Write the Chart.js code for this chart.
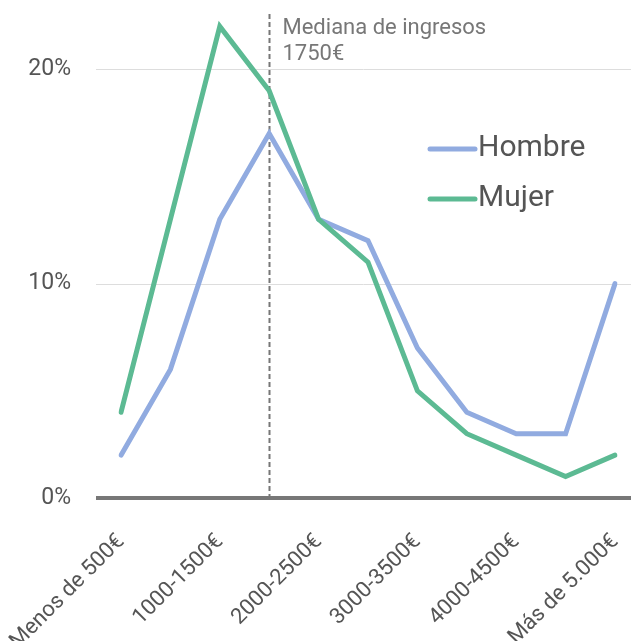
<!DOCTYPE html>
<html lang="es">
<head>
    <meta charset="UTF-8">
    <title>Ingresos por sexo</title>
    <script src="https://cdn.jsdelivr.net/npm/chart.js"></script>
    <style>
        body {
            margin: 0;
            padding: 0;
            background: #ffffff;
            overflow: hidden;
        }
    </style>
</head>
<body>
    <canvas id="incomeChart" width="631" height="641"></canvas>

    <script>
        // categories and values (% of people in each income band)
        const categories = ['Menos de 500€', '500-1000€', '1000-1500€', '1500-2000€', '2000-2500€',
            '2500-3000€', '3000-3500€', '3500-4000€', '4000-4500€', '4500-5000€', 'Más de 5.000€'];
        const hombre = [2, 6, 13, 17, 13, 12, 7, 4, 3, 3, 10];
        const mujer = [4, 13, 22, 19, 13, 11, 5, 3, 2, 1, 2];
        const seriesNames = ['Hombre', 'Mujer'];
        const yTicks = [0, 10, 20];
        const medianIndex = 3;
        const medianLabel = ['Mediana de ingresos', '1750€'];

        const colors = ['#91abe0', '#5cba93'];

        // grid lines across the whole width, thick zero line, median marker
        const gridPlugin = {
            id: 'gridLines',
            beforeDatasetsDraw(chart) {
                const ctx = chart.ctx;
                const y = chart.scales.y;
                ctx.save();
                yTicks.forEach(t => {
                    const py = Math.round(y.getPixelForValue(t));
                    ctx.beginPath();
                    if (t === 0) {
                        ctx.strokeStyle = '#777777';
                        ctx.lineWidth = 4;
                        ctx.moveTo(96, py);
                        ctx.lineTo(chart.width, py);
                    } else {
                        ctx.strokeStyle = '#dddddd';
                        ctx.lineWidth = 1;
                        ctx.moveTo(96, py + 0.5);
                        ctx.lineTo(chart.width, py + 0.5);
                    }
                    ctx.stroke();
                });

                const x = Math.round(chart.scales.x.getPixelForValue(medianIndex)) + 0.5;
                ctx.beginPath();
                ctx.setLineDash([5, 3]);
                ctx.strokeStyle = '#777777';
                ctx.lineWidth = 2;
                ctx.moveTo(x, 14);
                ctx.lineTo(x, y.getPixelForValue(0) - 2);
                ctx.stroke();
                ctx.setLineDash([]);

                ctx.fillStyle = '#777777';
                ctx.font = '22px Roboto';
                ctx.textAlign = 'left';
                ctx.textBaseline = 'middle';
                medianLabel.forEach((line, i) => {
                    ctx.fillText(line, x + 13, 28 + i * 26);
                });
                ctx.restore();
            }
        };

        // legend inside the plot
        const legendPlugin = {
            id: 'innerLegend',
            afterDatasetsDraw(chart) {
                const ctx = chart.ctx;
                ctx.save();
                ctx.font = '30px Roboto';
                ctx.textAlign = 'left';
                ctx.textBaseline = 'middle';
                seriesNames.forEach((name, i) => {
                    const cy = 149 + i * 50;
                    ctx.strokeStyle = colors[i];
                    ctx.lineWidth = 5;
                    ctx.lineCap = 'round';
                    ctx.beginPath();
                    ctx.moveTo(430, cy);
                    ctx.lineTo(475, cy);
                    ctx.stroke();
                    ctx.fillStyle = '#555555';
                    ctx.fillText(name, 478, cy - 1);
                });
                ctx.restore();
            }
        };

        const ctx = document.getElementById('incomeChart').getContext('2d');
        const chart = new Chart(ctx, {
            type: 'line',
            data: {
                labels: categories,
                datasets: [{
                    label: seriesNames[0],
                    data: hombre,
                    borderColor: colors[0],
                    borderWidth: 5,
                    borderCapStyle: 'round',
                    pointRadius: 0,
                    tension: 0,
                    order: 1
                }, {
                    label: seriesNames[1],
                    data: mujer,
                    borderColor: colors[1],
                    borderWidth: 5,
                    borderCapStyle: 'round',
                    pointRadius: 0,
                    tension: 0,
                    order: 0
                }]
            },
            options: {
                responsive: false,
                animation: false,
                layout: {
                    padding: { top: 5, right: 16, bottom: 0, left: 0 }
                },
                scales: {
                    x: {
                        offset: false,
                        grid: { display: false, drawTicks: false },
                        border: { display: false },
                        afterFit(scale) {
                            scale.height = 143;
                            scale.paddingLeft = 0;
                            scale.paddingRight = 0;
                        },
                        ticks: {
                            autoSkip: false,
                            maxRotation: 45,
                            minRotation: 45,
                            padding: 31,
                            color: '#555555',
                            font: { family: 'Roboto', size: 22 },
                            callback(v, i) { return i % 2 === 0 ? categories[i] : ''; }
                        }
                    },
                    y: {
                        min: 0,
                        max: 23,
                        grid: { display: false, drawTicks: false },
                        border: { display: false },
                        afterFit(scale) {
                            scale.width = 121;
                            scale.paddingTop = 0;
                            scale.paddingBottom = 0;
                        },
                        afterBuildTicks(scale) {
                            scale.ticks = yTicks.map(v => ({ value: v }));
                        },
                        ticks: {
                            padding: 50,
                            color: '#555555',
                            font: { family: 'Roboto', size: 23 },
                            callback: v => v + '%'
                        }
                    }
                },
                plugins: {
                    legend: { display: false },
                    tooltip: { enabled: false }
                }
            },
            plugins: [gridPlugin, legendPlugin]
        });
    </script>
</body>
</html>
